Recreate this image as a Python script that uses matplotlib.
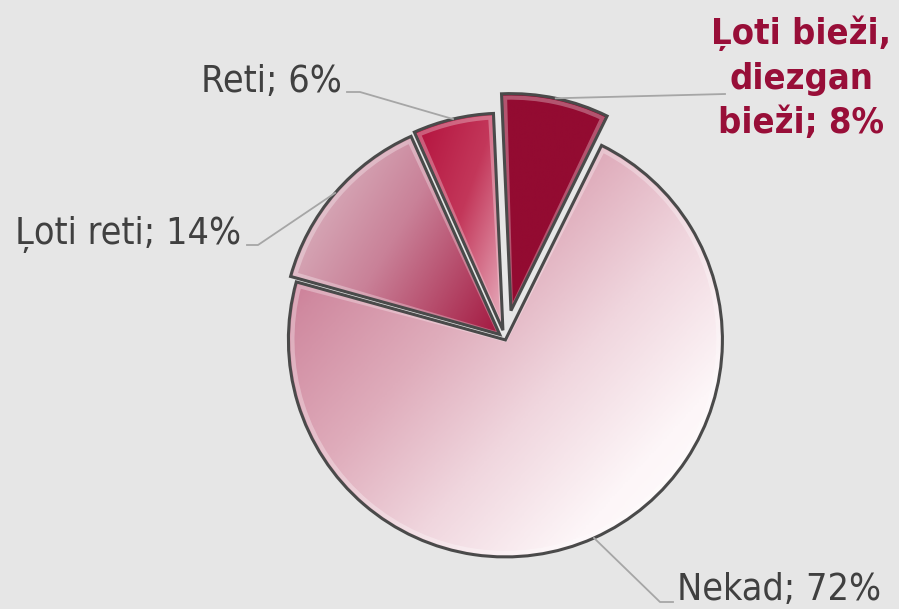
import numpy as np
import matplotlib
matplotlib.use("Agg")
import matplotlib.pyplot as plt
from matplotlib.colors import LinearSegmentedColormap
from matplotlib.patches import Wedge

# ---- data ----
labels = ["Ļoti bieži,\ndiezgan\nbieži", "Nekad", "Ļoti reti", "Reti"]
values = [8, 72, 14, 6]

W, H = 899, 609
fig = plt.figure(figsize=(W / 100, H / 100), dpi=100)
bg = "#e6e6e6"
fig.patch.set_facecolor(bg)
ax = fig.add_axes([0, 0, 1, 1])
ax.set_facecolor(bg)

cx, cy = 505, H - 339
R = 217
explode = [29, 1, 7, 9]

wedges, _ = ax.pie(values, center=(cx, cy), radius=R, startangle=92.5,
                   counterclock=False, explode=explode, frame=True,
                   wedgeprops=dict(linewidth=2.2, edgecolor="#4a4a4a"))

fills = [
    (["#930b31", "#930b31"], (1, -1)),
    (["#c2557a", "#d08aa0", "#dfacbb", "#f0d6de", "#fdf6f8", "#ffffff"], (1, -0.9)),
    (["#e0c4cd", "#c98198", "#a3173f"], (1, -0.6)),
    (["#b3103c", "#c3375a", "#e9b3c2"], (1, -0.35)),
]

for w, (cols, d) in zip(wedges, fills):
    ext = w.get_path().get_extents()
    x0, y0, x1, y1 = ext.x0, ext.y0, ext.x1, ext.y1
    n = 200
    X, Y = np.meshgrid(np.linspace(0, 1, n), np.linspace(0, 1, n))
    dx, dy = d
    t = X * (x1 - x0) * dx + Y * (y1 - y0) * dy
    t = (t - t.min()) / (t.max() - t.min())
    cmap = LinearSegmentedColormap.from_list("g", cols)
    im = ax.imshow(t, extent=[x0, x1, y0, y1], origin="lower", cmap=cmap,
                   vmin=0, vmax=1, zorder=1, interpolation="bilinear")
    im.set_clip_path(w)
    w.set_facecolor("none")
    w.set_zorder(3)
    # soft inner highlight for bevel look
    hl = Wedge(w.center, w.r - 4, w.theta1 + 0.9, w.theta2 - 0.9,
               facecolor="none", edgecolor=(1, 1, 1, 0.3), linewidth=3, zorder=2)
    ax.add_patch(hl)
    hl.set_clip_path(w)

text_col = "#404040"
line_col = "#a6a6a6"

def arc_point(w):
    th = np.deg2rad((w.theta1 + w.theta2) / 2)
    return w.center[0] + w.r * np.cos(th), w.center[1] + w.r * np.sin(th)

font = dict(family="DejaVu Sans", fontstretch="condensed")

# Ļoti bieži, diezgan bieži
px, py = arc_point(wedges[0])
ax.plot([px, 725], [py, H - 94], color=line_col, lw=1.3, zorder=4)
lines0 = f"{labels[0]}; {values[0]}%".split("\n")
for ln, yb in zip(lines0, [44, 89, 133]):
    ax.text(801, H - yb, ln, ha="center", va="baseline",
            color="#980e38", fontsize=26, fontweight="bold", **font)

# Nekad
px, py = arc_point(wedges[1])
ax.plot([px, 660, 673], [py, H - 602, H - 602], color=line_col, lw=1.3, zorder=4)
ax.text(677, H - 600, f"{labels[1]}; {values[1]}%", ha="left", va="baseline",
        color=text_col, fontsize=27, **font)

# Ļoti reti
px, py = arc_point(wedges[2])
ax.plot([px, 258, 247], [py, H - 245, H - 245], color=line_col, lw=1.3, zorder=4)
ax.text(241, H - 244, f"{labels[2]}; {values[2]}%", ha="right", va="baseline",
        color=text_col, fontsize=27, **font)

# Reti
px, py = arc_point(wedges[3])
ax.plot([px, 360, 347], [py, H - 92, H - 92], color=line_col, lw=1.3, zorder=4)
ax.text(342, H - 92, f"{labels[3]}; {values[3]}%", ha="right", va="baseline",
        color=text_col, fontsize=27, **font)

ax.set_xlim(0, W)
ax.set_ylim(0, H)
ax.set_aspect("auto")
ax.axis("off")

fig.savefig("out.png", dpi=100, facecolor=bg)
